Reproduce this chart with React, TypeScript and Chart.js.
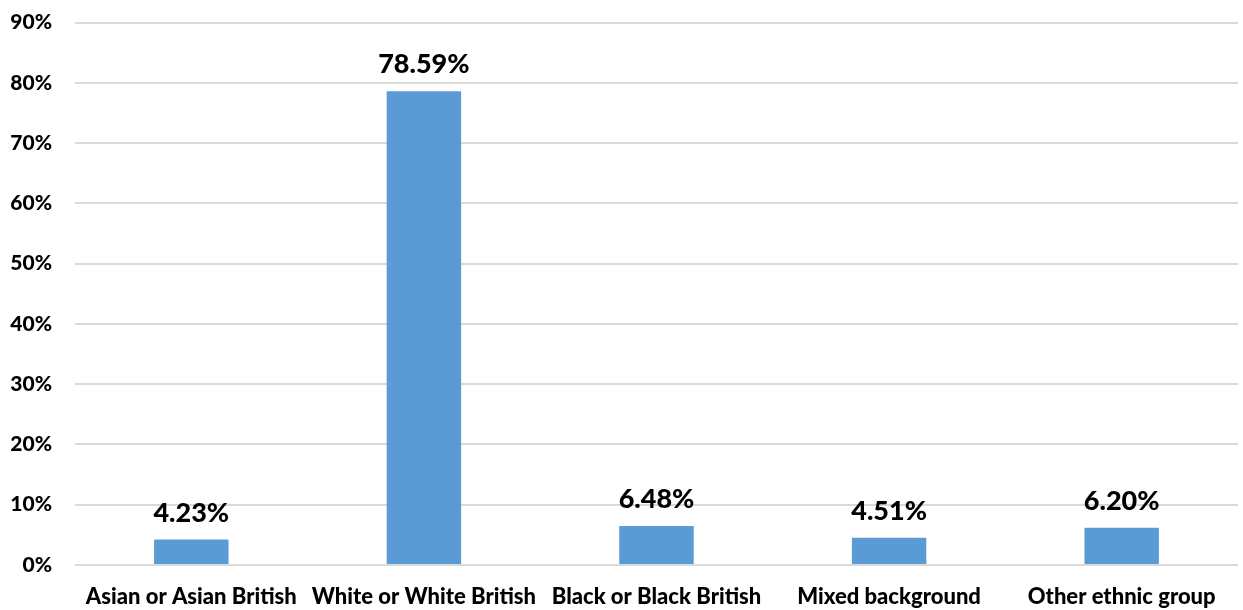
import React, { useEffect, useRef } from "react";
import { Chart, registerables } from "chart.js";

Chart.register(...registerables);

const categories = [
  "Asian or Asian British",
  "White or White British",
  "Black or Black British",
  "Mixed background",
  "Other ethnic group",
];
const values = [4.23, 78.59, 6.48, 4.51, 6.2];
const yTicks = [0, 10, 20, 30, 40, 50, 60, 70, 80, 90];

const FONT = "Lato, 'Open Sans', sans-serif";

const labelPlugin = {
  id: "barLabels",
  afterDatasetsDraw(chart: any) {
    const { ctx } = chart;
    const meta = chart.getDatasetMeta(0);
    ctx.save();
    ctx.font = `900 27px ${FONT}`;
    ctx.fillStyle = "#000";
    ctx.textAlign = "center";
    ctx.textBaseline = "alphabetic";
    meta.data.forEach((bar: any, i: number) => {
      ctx.fillText(values[i].toFixed(2) + "%", bar.x, bar.y - 18);
    });
    ctx.restore();
  },
};

export default function App() {
  const ref = useRef<HTMLCanvasElement>(null);
  useEffect(() => {
    document.body.style.margin = "0";
    const chart = new Chart(ref.current!, {
      type: "bar",
      data: {
        labels: categories,
        datasets: [
          {
            data: values,
            backgroundColor: "#5B9BD5",
            barPercentage: 0.32,
            categoryPercentage: 1,
          },
        ],
      },
      options: {
        animation: false,
        responsive: false,
        layout: { padding: { top: 10, right: 5, left: 0, bottom: 0 } },
        plugins: { legend: { display: false }, tooltip: { enabled: false } },
        scales: {
          x: {
            grid: { display: false, drawTicks: false },
            border: { display: false },
            ticks: {
              color: "#000",
              font: { family: FONT, weight: "900", size: 22 },
              padding: 19,
              maxRotation: 0,
              autoSkip: false,
            },
            afterFit: (s: any) => {
              s.height = 45;
            },
          },
          y: {
            min: 0,
            max: 90,
            afterBuildTicks: (s: any) => {
              s.ticks = yTicks.map((v) => ({ value: v }));
            },
            grid: { color: "#D9D9D9", lineWidth: 2, drawTicks: false },
            border: { display: false },
            ticks: {
              color: "#000",
              font: { family: FONT, weight: "900", size: 21 },
              padding: 23,
              callback: (v: any) => v + "%",
            },
            afterFit: (s: any) => {
              s.width = 75;
            },
          },
        },
      },
      plugins: [labelPlugin],
    });
    return () => chart.destroy();
  }, []);
  return (
    <div style={{ position: "absolute", left: 0, top: 0, width: 1243, height: 610, overflow: "hidden" }}>
      <canvas
        ref={ref}
        width={1243}
        height={623}
        style={{ display: "block", position: "absolute", left: 0, top: -13 }}
      />
    </div>
  );
}
